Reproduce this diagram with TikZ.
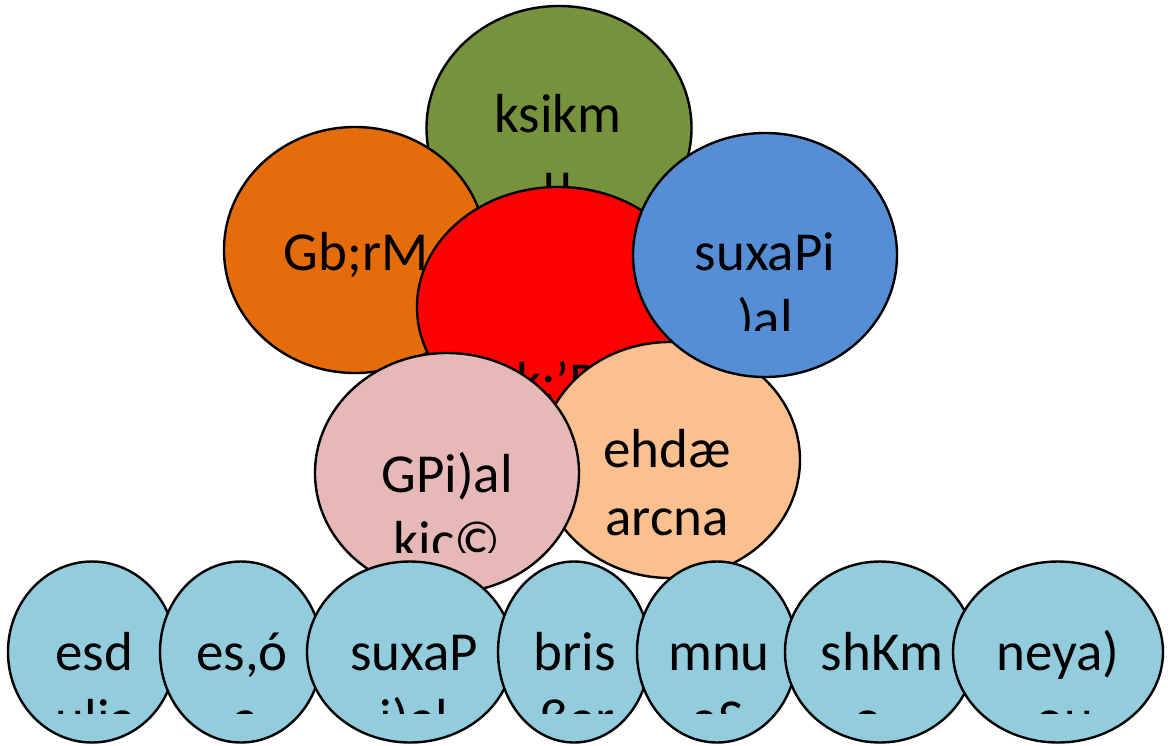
\documentclass[tikz,border=0pt]{standalone}
\usepackage{fontspec}
\setmainfont{Carlito}
\usetikzlibrary{shapes.geometric}
\definecolor{cGreen}{HTML}{76923C}
\definecolor{cOrange}{HTML}{E46C0A}
\definecolor{cRed}{HTML}{FF0000}
\definecolor{cBlue}{HTML}{558ED5}
\definecolor{cPink}{HTML}{E6B9B8}
\definecolor{cPeach}{HTML}{FAC090}
\definecolor{cAqua}{HTML}{93CDDD}
\tikzset{
  blob/.style={ellipse, draw=black, line width=2.4pt, inner sep=0pt, outer sep=0pt},
  txt/.style={font=\fontsize{55}{67}\selectfont, anchor=base, inner sep=0pt, outer sep=0pt, text=black},
}
\begin{document}
\begin{tikzpicture}[x=1pt,y=-1pt]
\useasboundingbox (0,0) rectangle (1170,745);
% green
\node[blob, fill=cGreen, minimum width=265pt, minimum height=244pt] (green) at (559,128) {};
\begin{scope}
\clip (420,0) rectangle (700,205);
\node[txt] (greenA) at (558,132) {ksikm};
\node[txt] (greenB) at (558,199) {u};
\end{scope}
% orange
\node[blob, fill=cOrange, minimum width=262pt, minimum height=246pt] (orange) at (355,250) {};
\node[txt] (orangeA) at (356,270) {Gb;rM};
% red
\node[blob, fill=cRed, minimum width=282pt, minimum height=240pt] (red) at (558,307) {};
\node[txt] (redA) at (557,400) {k;'P};
% peach
\node[blob, fill=cPeach, minimum width=260pt, minimum height=236pt] (peach) at (670,460) {};
\node[txt] (peachA) at (667,467) {ehdæ};
\node[txt] (peachB) at (667,535) {arcna};
% blue
\node[blob, fill=cBlue, minimum width=264pt, minimum height=244pt] (blue) at (765,255) {};
\begin{scope}
\clip (630,130) rectangle (900,330);
\node[txt] (blueA) at (765,270) {suxaPi};
\node[txt] (blueB) at (765,337) {)al};
\end{scope}
% pink
\node[blob, fill=cPink, minimum width=264pt, minimum height=240pt] (pink) at (447,473) {};
\begin{scope}
\clip (310,350) rectangle (585,552);
\node[txt] (pinkA) at (447,492) {GPi)al};
\node[txt] (pinkB) at (447,559) {kic©};
\end{scope}
% bottom row
\node[blob, fill=cAqua, minimum width=168pt, minimum height=181pt] (b1) at (92,652) {};
\begin{scope}
\clip (0,560) rectangle (1170,713);
\node[txt] (b1A) at (94,670) {esd};
\node[txt] (b1B) at (96,737) {ulia};
\end{scope}
\node[blob, fill=cAqua, minimum width=162pt, minimum height=181pt] (b2) at (241,652) {};
\begin{scope}
\clip (0,560) rectangle (1170,713);
\node[txt] (b2A) at (242,670) {es,ó};
\node[txt] (b2B) at (246,737) {a};
\end{scope}
\node[blob, fill=cAqua, minimum width=206pt, minimum height=181pt] (b3) at (410,652) {};
\begin{scope}
\clip (0,560) rectangle (1170,713);
\node[txt] (b3A) at (414,670) {suxaP};
\node[txt] (b3B) at (414,737) {i)al};
\end{scope}
\node[blob, fill=cAqua, minimum width=152pt, minimum height=181pt] (b4) at (574,652) {};
\begin{scope}
\clip (0,560) rectangle (1170,713);
\node[txt] (b4A) at (575,670) {bris};
\node[txt] (b4B) at (577,737) {ßer};
\end{scope}
\node[blob, fill=cAqua, minimum width=160pt, minimum height=181pt] (b5) at (717,652) {};
\begin{scope}
\clip (0,560) rectangle (1170,713);
\node[txt] (b5A) at (719,670) {mnu};
\node[txt] (b5B) at (717,737) {eS};
\end{scope}
\node[blob, fill=cAqua, minimum width=190pt, minimum height=181pt] (b6) at (880,652) {};
\begin{scope}
\clip (0,560) rectangle (1170,713);
\node[txt] (b6A) at (882,670) {shKm};
\node[txt] (b6B) at (868,737) {o};
\end{scope}
\node[blob, fill=cAqua, minimum width=210pt, minimum height=181pt] (b7) at (1058,652) {};
\begin{scope}
\clip (0,560) rectangle (1170,713);
\node[txt] (b7A) at (1058,670) {neya)};
\node[txt] (b7B) at (1064,737) {ou};
\end{scope}
\end{tikzpicture}
\end{document}
